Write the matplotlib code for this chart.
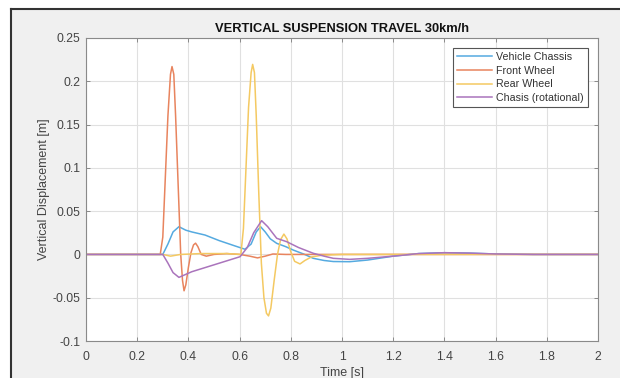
import numpy as np
import matplotlib.pyplot as plt
from matplotlib.patches import Rectangle

# ---- data ----
t_chassis = [0, 0.30, 0.32, 0.34, 0.363, 0.39, 0.413, 0.465, 0.52, 0.58, 0.621,
             0.645, 0.665, 0.682, 0.70, 0.72, 0.745, 0.78, 0.81, 0.85, 0.888,
             0.93, 0.966, 1.03, 1.10, 1.20, 1.30, 1.40, 1.50, 1.60, 1.75, 2.0]
y_chassis = [0, 0, 0.012, 0.026, 0.032, 0.028, 0.026, 0.0224, 0.016, 0.010, 0.006,
             0.012, 0.026, 0.032, 0.026, 0.018, 0.0128, 0.009, 0.005, 0.0005, -0.0045,
             -0.007, -0.0082, -0.0084, -0.0065, -0.002, 0.001, 0.002, 0.0015, 0.0005, 0.0, 0.0]

t_front = [0, 0.29, 0.30, 0.31, 0.32, 0.33, 0.336, 0.343, 0.35, 0.36, 0.37,
           0.377, 0.383, 0.39, 0.40, 0.41, 0.42, 0.428, 0.437, 0.45, 0.47,
           0.50, 0.55, 0.60, 0.64, 0.67, 0.70, 0.73, 0.78, 2.0]
y_front = [0, 0, 0.02, 0.09, 0.16, 0.208, 0.217, 0.208, 0.16, 0.08, 0.0,
           -0.03, -0.042, -0.035, -0.015, 0.002, 0.011, 0.013, 0.009, 0.0, -0.002,
           0.0, 0.001, 0.0, -0.002, -0.004, -0.002, 0.0005, 0.0, 0.0]

t_rear = [0, 0.30, 0.33, 0.37, 0.45, 0.55, 0.605, 0.615, 0.625, 0.635, 0.645,
          0.651, 0.658, 0.665, 0.675, 0.685, 0.695, 0.705, 0.713, 0.722, 0.735,
          0.748, 0.76, 0.773, 0.785, 0.80, 0.815, 0.836, 0.855, 0.88, 0.92, 1.0, 2.0]
y_rear = [0, 0, -0.002, 0, 0.001, 0.001, 0, 0.03, 0.10, 0.17, 0.21,
          0.2195, 0.21, 0.16, 0.07, -0.01, -0.05, -0.068, -0.071, -0.062, -0.03,
          0.0, 0.017, 0.0235, 0.018, 0.003, -0.008, -0.011, -0.007, -0.003, -0.001, 0.0, 0.0]

t_rot = [0, 0.30, 0.32, 0.34, 0.363, 0.39, 0.413, 0.50, 0.602, 0.63, 0.655,
         0.686, 0.71, 0.745, 0.784, 0.83, 0.888, 0.93, 0.966, 1.03, 1.10,
         1.20, 1.30, 1.40, 1.50, 1.60, 1.75, 2.0]
y_rot = [0, 0, -0.01, -0.021, -0.0265, -0.023, -0.020, -0.012, -0.0026, 0.008, 0.025,
         0.039, 0.032, 0.0186, 0.0147, 0.008, 0.0013, -0.002, -0.0045, -0.0057, -0.0045,
         -0.002, 0.001, 0.002, 0.0015, 0.0005, 0.0, 0.0]

series = [
    (t_chassis, y_chassis, 'Vehicle Chassis', '#55aae0'),
    (t_front, y_front, 'Front Wheel', '#e8845e'),
    (t_rear, y_rear, 'Rear Wheel', '#f4c962'),
    (t_rot, y_rot, 'Chasis (rotational)', '#aa74bc'),
]

xticks = [0, 0.2, 0.4, 0.6, 0.8, 1, 1.2, 1.4, 1.6, 1.8, 2]
xticklabels = ['0', '0.2', '0.4', '0.6', '0.8', '1', '1.2', '1.4', '1.6', '1.8', '2']
yticks = [-0.1, -0.05, 0, 0.05, 0.1, 0.15, 0.2, 0.25]
yticklabels = ['-0.1', '-0.05', '0', '0.05', '0.1', '0.15', '0.2', '0.25']

plt.rcParams['font.family'] = ['Liberation Sans', 'DejaVu Sans']

W, H = 620, 378
fig = plt.figure(figsize=(W / 100, H / 100), dpi=100)
fig.patch.set_facecolor('white')

# screenshot window frame: grey panel with dark edge on left/top
fig.patches.append(Rectangle((11 / W, 0), 1 - 11 / W, 1 - 9 / H, transform=fig.transFigure,
                             facecolor='#f0f0f0', edgecolor='none', zorder=-5))
fig.add_artist(plt.Line2D([11 / W, 11 / W], [0, 1 - 9 / H], transform=fig.transFigure,
                          color='#333333', lw=1.5))
fig.add_artist(plt.Line2D([11 / W, 1], [1 - 9 / H, 1 - 9 / H], transform=fig.transFigure,
                          color='#333333', lw=1.5))

ax = fig.add_axes([86 / W, 1 - 341 / H, (598 - 86) / W, (341 - 38) / H])
ax.set_facecolor('white')

for t, y, lab, col in series:
    ax.plot(t, y, color=col, lw=1.1, label=lab)

ax.set_xlim(0, 2)
ax.set_ylim(-0.1, 0.25)
ax.set_xticks(xticks)
ax.set_xticklabels(xticklabels)
ax.set_yticks(yticks)
ax.set_yticklabels(yticklabels)
ax.grid(True, color='#e0e0e0', lw=0.8)
ax.set_axisbelow(True)
ax.tick_params(direction='in', length=3, width=0.7, colors='#8a8a8a',
               labelcolor='#444444', labelsize=8.8, top=True, right=True, pad=4)
ax.tick_params(axis='x', pad=7)
for s in ax.spines.values():
    s.set_color('#8a8a8a')
    s.set_linewidth(0.8)

ax.set_title('VERTICAL SUSPENSION TRAVEL 30km/h', fontsize=9.3, fontweight='bold',
             color='#111111', pad=4)
ax.set_xlabel('Time [s]', fontsize=9, color='#444444', labelpad=3)
ax.set_ylabel('Vertical Displacement [m]', fontsize=9, color='#444444', labelpad=2)

leg = ax.legend(loc='upper right', fontsize=7.7, frameon=True, fancybox=False,
                edgecolor='#555555', framealpha=1, borderpad=0.4, labelspacing=0.35,
                handlelength=3.3, handletextpad=0.4, borderaxespad=0.9)
leg.get_frame().set_linewidth(0.8)
for txt in leg.get_texts():
    txt.set_color('#333333')

fig.savefig('out.png', dpi=100)
